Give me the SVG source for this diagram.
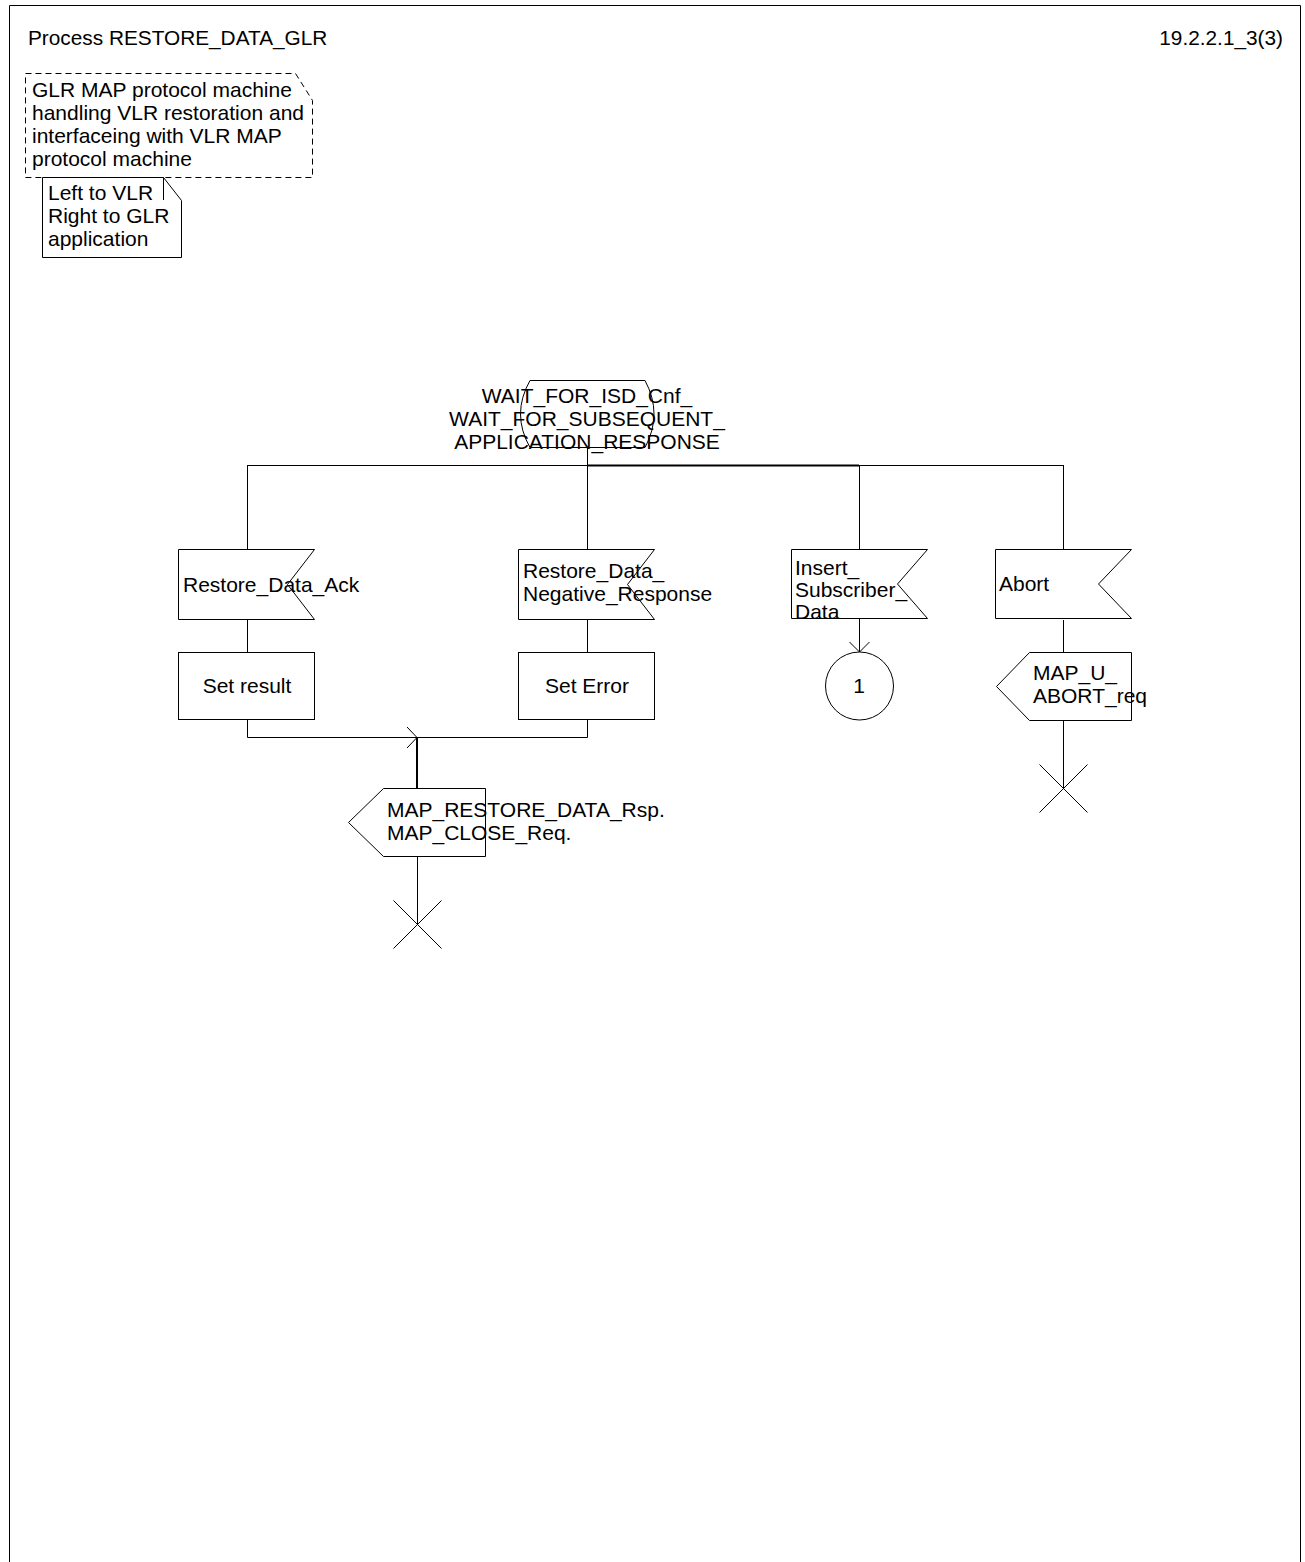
<svg xmlns="http://www.w3.org/2000/svg" width="1305" height="1562" viewBox="0 0 1305 1562">
<style>
text{font-family:"Liberation Sans",Arial,sans-serif;font-size:21px;fill:#000}
.s{fill:#fff;stroke:#000;stroke-width:1}
.l{fill:none;stroke:#000;stroke-width:1}
.b{fill:none;stroke:#000;stroke-width:2}
.d{fill:none;stroke:#000;stroke-width:1;stroke-dasharray:6,4}
.c{text-anchor:middle}
</style>
<rect width="1305" height="1562" fill="#fff"/>
<g id="frame">
<path class="l" d="M9.5,1570 V5.5 H1300.5 V1570" stroke="#555"/>
<text x="28" y="45" style="font-size:20.8px">Process RESTORE_DATA_GLR</text>
<text x="1283" y="45" text-anchor="end" style="font-size:20.8px">19.2.2.1_3(3)</text>
</g>
<g id="note1">
<path class="d" d="M25.5,73.5 H295.5 L312.5,100.5 V177.5 H25.5 Z"/>
<text x="32" y="97">GLR MAP protocol machine</text>
<text x="32" y="120">handling VLR restoration and</text>
<text x="32" y="143">interfaceing with VLR MAP</text>
<text x="32" y="166">protocol machine</text>
</g>
<g id="note2">
<path class="s" d="M42.5,177.5 H163.5 L181.5,200.5 V257.5 H42.5 Z"/>
<path class="l" d="M163.5,177.5 V200"/>
<text x="48" y="200">Left to VLR</text>
<text x="48" y="223">Right to GLR</text>
<text x="48" y="246">application</text>
</g>
<g id="connectors">
<path class="l" d="M587.5,447 V465.5"/>
<path class="l" d="M247.5,465.5 H587.5"/>
<path class="b" d="M587,465.5 H859"/>
<path class="l" d="M859.5,465.5 H1063.5"/>
<path class="l" d="M247.5,465 V549 M587.5,465 V549 M859.5,465 V549 M1063.5,465 V549"/>
<path class="l" d="M247.5,620 V652 M587.5,620 V652 M1063.5,620 V652"/>
<path class="l" d="M859.5,619 V652 M849.5,642 L859.5,652 L869.5,642"/>
<path class="l" d="M247.5,720 V737.5 H587.5 V720"/>
<path class="l" d="M407,727 L417,737.5 L407,748"/>
<path class="b" d="M417,737 V788"/>
<path class="l" d="M417.5,856 V924 M1063.5,720 V788"/>
</g>
<g id="state">
<path class="s" d="M530,380.5 H645 Q663,414 645,447.5 H530 Q511,414 530,380.5 Z"/>
<text class="c" x="587" y="403">WAIT_FOR_ISD_Cnf_</text>
<text class="c" x="587" y="426">WAIT_FOR_SUBSEQUENT_</text>
<text class="c" x="587" y="449">APPLICATION_RESPONSE</text>
</g>
<g id="in_ack">
<path class="s" d="M178.5,549.5 H314.5 L287.5,584.5 L314.5,619.5 H178.5 Z"/>
<text x="183" y="592">Restore_Data_Ack</text>
</g>
<g id="in_neg">
<path class="s" d="M518.5,549.5 H654.5 L627.5,584.5 L654.5,619.5 H518.5 Z"/>
<text x="523" y="578">Restore_Data_</text>
<text x="523" y="601">Negative_Response</text>
</g>
<g id="in_isd">
<path class="s" d="M791.5,549.5 H927.5 L897.5,584 L927.5,618.5 H791.5 Z"/>
<text x="795" y="575">Insert_</text>
<text x="795" y="597">Subscriber_</text>
<text x="795" y="619">Data</text>
</g>
<g id="in_abort">
<path class="s" d="M995.5,549.5 H1131.5 L1098.5,584 L1131.5,618.5 H995.5 Z"/>
<text x="999" y="591">Abort</text>
</g>
<g id="task_result">
<rect class="s" x="178.5" y="652.5" width="136" height="67"/>
<text class="c" x="247" y="693">Set result</text>
</g>
<g id="task_error">
<rect class="s" x="518.5" y="652.5" width="136" height="67"/>
<text class="c" x="587" y="693">Set Error</text>
</g>
<g id="conn1">
<circle class="s" cx="859.5" cy="686" r="34"/>
<text class="c" x="859" y="693">1</text>
</g>
<g id="out_abort">
<path class="s" d="M1029.5,652.5 H1131.5 V720.5 H1029.5 L996.5,686.5 Z"/>
<text x="1033" y="680">MAP_U_</text>
<text x="1033" y="703">ABORT_req</text>
</g>
<g id="out_rsp">
<path class="s" d="M383.5,788.5 H485.5 V856.5 H383.5 L348.5,822.5 Z"/>
<text x="387" y="817">MAP_RESTORE_DATA_Rsp.</text>
<text x="387" y="840">MAP_CLOSE_Req.</text>
</g>
<g id="stop1">
<path class="l" d="M393.5,900.5 L441.5,948.5 M441.5,900.5 L393.5,948.5"/>
</g>
<g id="stop2">
<path class="l" d="M1039.5,764.5 L1087.5,812.5 M1087.5,764.5 L1039.5,812.5"/>
</g>
</svg>
